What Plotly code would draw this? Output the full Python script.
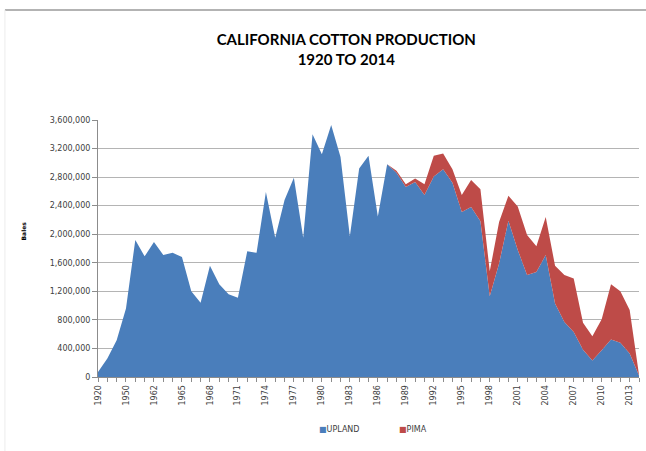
import plotly.graph_objects as go

# Crop years (categories along the x axis)
years = [1920, 1930, 1940, 1950, 1955, 1960] + list(range(1962, 2015))

# Upland cotton production, bales
upland = [
    70000, 258000, 516000, 961000, 1920000, 1690000, 1890000, 1710000,
    1740000, 1680000, 1200000, 1040000, 1560000, 1300000, 1160000, 1110000,
    1760000, 1740000, 2590000, 1950000, 2480000, 2790000, 1950000, 3400000,
    3120000, 3530000, 3080000, 1970000, 2920000, 3100000, 2250000, 2980000,
    2860000, 2660000, 2730000, 2550000, 2810000, 2910000, 2720000, 2310000,
    2380000, 2180000, 1130000, 1590000, 2190000, 1780000, 1430000, 1470000,
    1710000, 1030000, 770000, 630000, 380000, 230000, 375000, 525000,
    480000, 330000, 20000,
]

# Pima cotton production, bales (stacked on top of Upland)
pima = [
    0, 0, 0, 0, 0, 0, 0, 0,
    0, 0, 0, 0, 0, 0, 0, 0,
    0, 0, 0, 0, 0, 0, 0, 0,
    0, 0, 0, 0, 0, 0, 0, 0,
    30000, 40000, 50000, 150000, 290000, 220000, 190000, 240000,
    380000, 450000, 350000, 580000, 350000, 610000, 560000, 360000,
    530000, 530000, 660000, 750000, 380000, 340000, 435000, 775000,
    720000, 610000, 10000,
]

labeled_years = [1920, 1950, 1962, 1965, 1968, 1971, 1974, 1977, 1980, 1983,
                 1986, 1989, 1992, 1995, 1998, 2001, 2004, 2007, 2010, 2013]

y_ticks = list(range(0, 3600001, 400000))

series_colors = {"UPLAND": "#4A7EBB", "PIMA": "#BE4B48"}

cats = [str(y) for y in years]
tick_text = [str(y) if y in labeled_years else "" for y in years]

fig = go.Figure()
for name, values in (("UPLAND", upland), ("PIMA", pima)):
    fig.add_trace(go.Scatter(
        x=cats, y=values, name=name, mode="lines",
        stackgroup="prod", line=dict(width=0, color=series_colors[name]),
        fillcolor=series_colors[name], showlegend=False,
    ))

axis_font = dict(family="DejaVu Sans", size=8, color="#404040")

# Compact legend: colored square swatch followed by the series name
legend_items = []
for name, xpos in (("UPLAND", 0.405), ("PIMA", 0.553)):
    legend_items.append(dict(
        text=f"<span style='color:{series_colors[name]}'>■</span>{name}",
        x=xpos, y=-0.206, xref="paper", yref="paper",
        xanchor="left", yanchor="middle", showarrow=False, font=axis_font,
    ))

fig.update_layout(
    width=646, height=451,
    margin=dict(l=98, r=7, t=120, b=74),
    paper_bgcolor="white", plot_bgcolor="white",
    title=dict(
        text="<b>CALIFORNIA COTTON PRODUCTION<br>1920 TO 2014</b>",
        font=dict(family="Lato", size=15, color="#000000"),
        x=0.536, xref="container", xanchor="center",
        y=0.9, yref="container", yanchor="top",
    ),
    showlegend=False,
    xaxis=dict(
        type="category", range=[0, len(cats) - 1],
        tickmode="array", tickvals=cats, ticktext=tick_text,
        tickangle=-90, tickfont=axis_font,
        ticks="outside", ticklen=4, tickcolor="#8c8c8c",
        showline=True, linecolor="#8c8c8c", linewidth=1,
        showgrid=False, zeroline=False, fixedrange=True,
    ),
    yaxis=dict(
        range=[0, 3600000], tickmode="array", tickvals=y_ticks,
        ticktext=[f"{v:,}" for v in y_ticks], tickfont=axis_font,
        ticks="outside", ticklen=5, tickcolor="#8c8c8c",
        showline=True, linecolor="#8c8c8c", linewidth=1,
        showgrid=True, gridcolor="#b4b4b4", gridwidth=1,
        zeroline=False, fixedrange=True,
    ),
    annotations=[dict(
        text="<b>Bales</b>", textangle=-90,
        x=-0.148, y=0.568, xref="paper", yref="paper",
        showarrow=False, font=dict(family="DejaVu Sans", size=6, color="#000000"),
    )] + legend_items,
    shapes=[
        dict(type="line", xref="paper", yref="paper",
             x0=-0.172, x1=1.02, y0=1.428, y1=1.428,
             line=dict(color="#9a9a9a", width=1.5)),
        dict(type="line", xref="paper", yref="paper",
             x0=-0.172, x1=-0.172, y0=1.428, y1=-0.3,
             line=dict(color="#ececec", width=1)),
    ],
)

fig.write_html("out.html")
